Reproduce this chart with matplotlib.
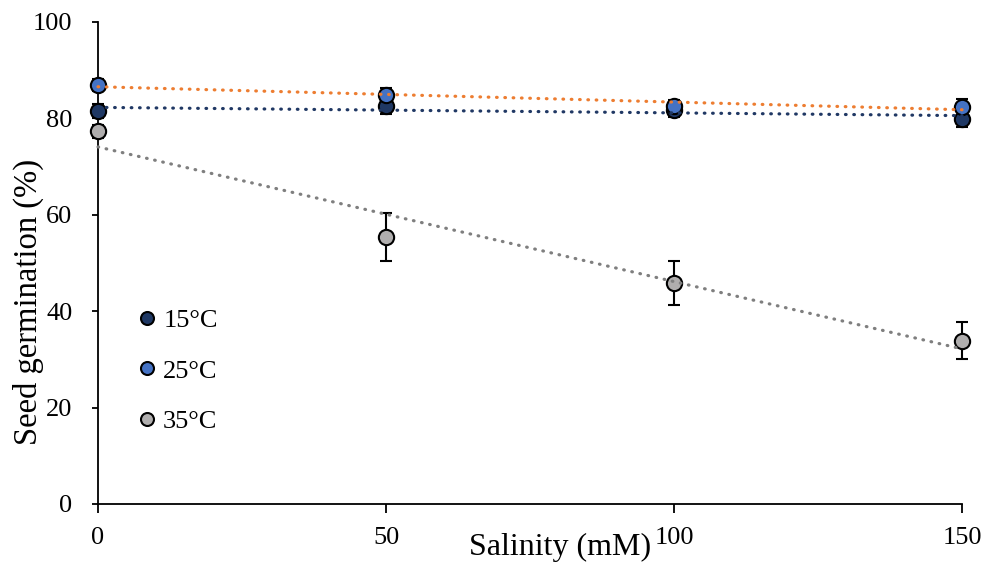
import numpy as np
import matplotlib
matplotlib.use("Agg")
import matplotlib.pyplot as plt

plt.rcParams["font.family"] = ["Liberation Serif", "DejaVu Serif"]

salinity = [0, 50, 100, 150]
labels = ["15°C", "25°C", "35°C"]
germ_15 = [81.5, 82.6, 81.7, 79.9]
germ_25 = [86.9, 84.9, 82.5, 82.4]
germ_35 = [77.3, 55.4, 45.9, 33.9]
err_15 = [1.5, 1.6, 1.5, 1.6]
err_25 = [1.2, 1.5, 1.4, 1.7]
err_35 = [1.4, 4.9, 4.6, 3.9]

fill_colors = ["#1f3864", "#4472c4", "#b0aeae"]
trend_colors = ["#203864", "#ed7d31", "#7f7f7f"]

fig = plt.figure(figsize=(9.87, 5.63), dpi=100)
ax = fig.add_axes([0.0993, 0.1048, 0.8754, 0.8562])

series = [germ_15, germ_25, germ_35]
errors = [err_15, err_25, err_35]
x = np.array(salinity)
for y, e, fc, lab in zip(series, errors, fill_colors, labels):
    ax.errorbar(x, y, yerr=e, fmt="o", ms=11, mfc=fc, mec="black", mew=1.5,
                ecolor="black", elinewidth=1.5, capsize=4.5, capthick=1.5,
                label=lab, clip_on=False, zorder=3)

# linear trendlines, drawn over the markers
for y, tc in zip(series, trend_colors):
    k, b = np.polyfit(x, y, 1)
    ax.plot(x, k * x + b, color=tc, lw=2.3, ls=(0, (0.2, 2.4)),
            dash_capstyle="round", clip_on=False, zorder=4)

ax.set_xlim(0, 150)
ax.set_ylim(0, 100)
ax.set_xticks([0, 50, 100, 150])
ax.set_yticks([0, 20, 40, 60, 80, 100])
ax.spines["top"].set_visible(False)
ax.spines["right"].set_visible(False)
for s in ["left", "bottom"]:
    ax.spines[s].set_linewidth(1.3)
ax.tick_params(axis="x", direction="out", length=6.5, width=1.3, pad=10, labelsize=19)
ax.tick_params(axis="y", direction="out", length=4.5, width=1.3, pad=14, labelsize=19)

ax.text(-0.081, 0.419, "Seed germination (%)", transform=ax.transAxes,
        rotation=90, ha="center", va="center", fontsize=23.5)
fig.text(0.567, 1 - 555 / 563, "Salinity (mM)", ha="center", va="baseline",
         fontsize=23)

handles, labs = ax.get_legend_handles_labels()
handles = [h[0] for h in handles]
leg = ax.legend(handles, labs, loc="upper left", bbox_to_anchor=(0.029, 0.427),
                frameon=False, fontsize=19, markerscale=0.85, handletextpad=0.12,
                handlelength=1.0, labelspacing=1.02, borderaxespad=0)

fig.savefig("out.png", dpi=100)
